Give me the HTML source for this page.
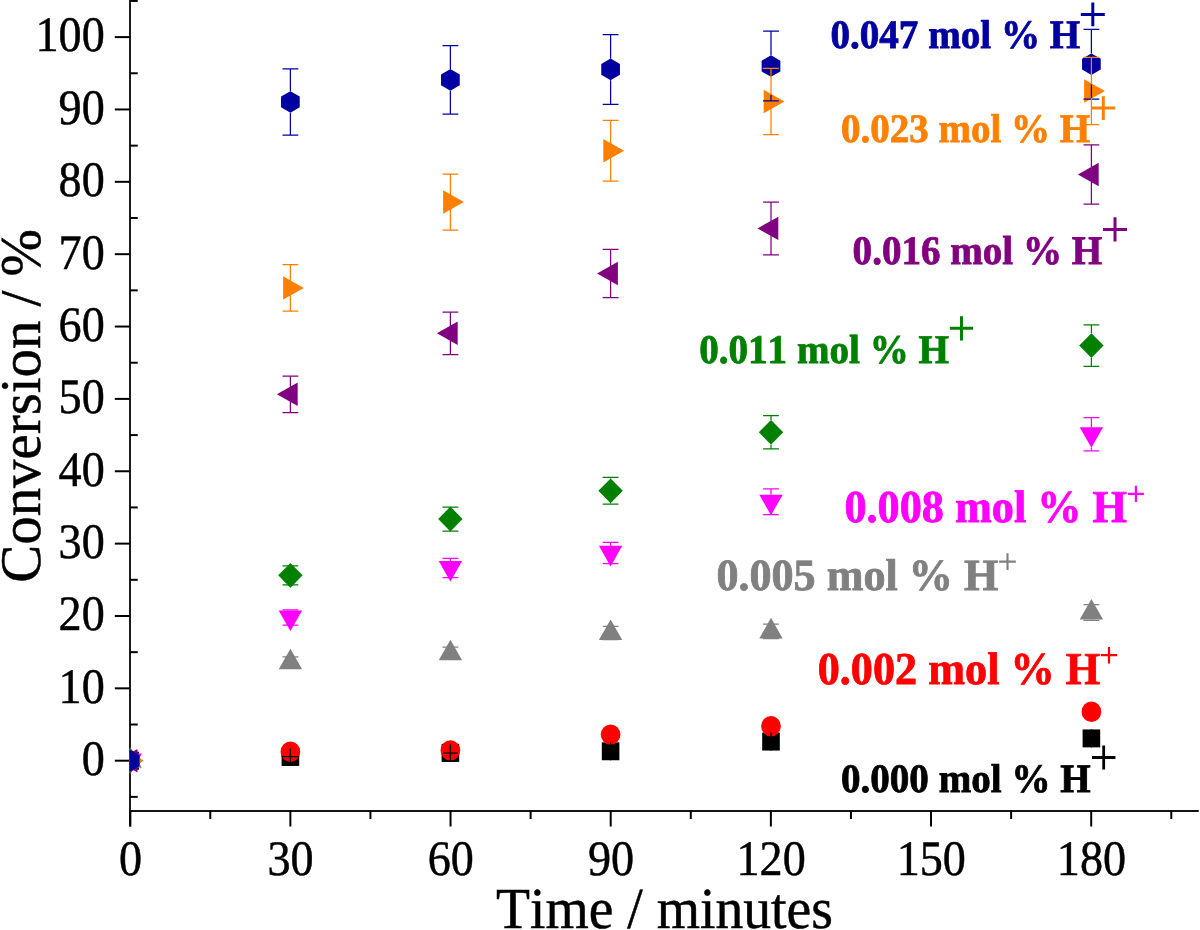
<!DOCTYPE html><html><head><meta charset="utf-8"><style>html,body{margin:0;padding:0;background:#fff;}svg{display:block;will-change:transform;}text{font-family:"Liberation Serif",serif;font-kerning:none;white-space:pre;text-rendering:geometricPrecision;}</style></head><body>
<svg width="1200" height="930" viewBox="0 0 1200 930">
<rect width="1200" height="930" fill="#fff"/>
<defs><clipPath id="pc"><rect x="129.4" y="0" width="1070.6" height="811"/></clipPath></defs>
<g stroke="#000" stroke-width="2" fill="none">
<path d="M130.0,0V811" stroke="#1c1c1c"/>
<path d="M130.2,811V826.5"/>
<path d="M130,811.1H1198" stroke="#141414" stroke-linecap="round"/>
<path d="M114.8,760.70H130.2"/>
<path d="M114.8,688.34H130.2"/>
<path d="M114.8,615.98H130.2"/>
<path d="M114.8,543.62H130.2"/>
<path d="M114.8,471.26H130.2"/>
<path d="M114.8,398.90H130.2"/>
<path d="M114.8,326.54H130.2"/>
<path d="M114.8,254.18H130.2"/>
<path d="M114.8,181.82H130.2"/>
<path d="M114.8,109.46H130.2"/>
<path d="M114.8,37.10H130.2"/>
<path d="M130.2,796.88H137.7"/>
<path d="M130.2,724.52H137.7"/>
<path d="M130.2,652.16H137.7"/>
<path d="M130.2,579.80H137.7"/>
<path d="M130.2,507.44H137.7"/>
<path d="M130.2,435.08H137.7"/>
<path d="M130.2,362.72H137.7"/>
<path d="M130.2,290.36H137.7"/>
<path d="M130.2,218.00H137.7"/>
<path d="M130.2,145.64H137.7"/>
<path d="M130.2,73.28H137.7"/>
<path d="M130.2,0.92H137.7"/>
<path d="M130.20,811V826.5"/>
<path d="M290.37,811V826.5"/>
<path d="M450.53,811V826.5"/>
<path d="M610.70,811V826.5"/>
<path d="M770.87,811V826.5"/>
<path d="M931.03,811V826.5"/>
<path d="M1091.20,811V826.5"/>
<path d="M210.28,811V819"/>
<path d="M370.45,811V819"/>
<path d="M530.62,811V819"/>
<path d="M690.78,811V819"/>
<path d="M850.95,811V819"/>
<path d="M1011.12,811V819"/>
<path d="M1171.28,811V819"/>
</g>
<g clip-path="url(#pc)">
<rect x="121.40" y="751.75" width="17.6" height="17.9" fill="#000000"/>
<ellipse cx="130.20" cy="760.70" rx="9.85" ry="10.2" fill="#FF0000"/>
<polygon points="130.20,747.20 141.90,767.80 118.50,767.80" fill="#808080"/>
<polygon points="118.50,753.60 141.90,753.60 130.20,774.20" fill="#FF00FF"/>
<polygon points="130.20,748.30 142.40,760.70 130.20,773.10 118.00,760.70" fill="#008000"/>
<polygon points="116.70,760.70 137.50,749.00 137.50,772.40" fill="#800080"/>
<polygon points="143.70,760.70 122.90,749.00 122.90,772.40" fill="#FF8000"/>
<polygon points="130.20,749.90 120.85,755.30 120.85,766.10 130.20,771.50 139.55,766.10 139.55,755.30" fill="#0000A0"/>
<rect x="281.60" y="748.05" width="17.6" height="17.9" fill="#000000"/>
<rect x="441.60" y="744.05" width="17.6" height="17.9" fill="#000000"/>
<rect x="601.80" y="742.35" width="17.6" height="17.9" fill="#000000"/>
<rect x="762.20" y="732.65" width="17.6" height="17.9" fill="#000000"/>
<rect x="1082.60" y="729.45" width="17.6" height="17.9" fill="#000000"/>
<ellipse cx="290.40" cy="751.80" rx="9.85" ry="10.2" fill="#FF0000"/>
<ellipse cx="450.40" cy="750.40" rx="9.85" ry="10.2" fill="#FF0000"/>
<ellipse cx="610.60" cy="734.60" rx="9.85" ry="10.2" fill="#FF0000"/>
<ellipse cx="771.00" cy="726.30" rx="9.85" ry="10.2" fill="#FF0000"/>
<ellipse cx="1091.40" cy="711.80" rx="9.85" ry="10.2" fill="#FF0000"/>
<polygon points="290.40,648.70 302.10,669.30 278.70,669.30" fill="#808080"/>
<polygon points="450.40,639.70 462.10,660.30 438.70,660.30" fill="#808080"/>
<polygon points="610.60,619.40 622.30,640.00 598.90,640.00" fill="#808080"/>
<polygon points="771.00,617.80 782.70,638.40 759.30,638.40" fill="#808080"/>
<polygon points="1091.40,599.00 1103.10,619.60 1079.70,619.60" fill="#808080"/>
<polygon points="278.70,610.40 302.10,610.40 290.40,631.00" fill="#FF00FF"/>
<polygon points="438.70,560.90 462.10,560.90 450.40,581.50" fill="#FF00FF"/>
<polygon points="598.90,545.80 622.30,545.80 610.60,566.40" fill="#FF00FF"/>
<polygon points="759.30,494.70 782.70,494.70 771.00,515.30" fill="#FF00FF"/>
<polygon points="1079.70,427.20 1103.10,427.20 1091.40,447.80" fill="#FF00FF"/>
<polygon points="290.40,562.90 302.60,575.30 290.40,587.70 278.20,575.30" fill="#008000"/>
<polygon points="450.40,506.60 462.60,519.00 450.40,531.40 438.20,519.00" fill="#008000"/>
<polygon points="610.60,478.40 622.80,490.80 610.60,503.20 598.40,490.80" fill="#008000"/>
<polygon points="771.00,419.90 783.20,432.30 771.00,444.70 758.80,432.30" fill="#008000"/>
<polygon points="1091.40,333.20 1103.60,345.60 1091.40,358.00 1079.20,345.60" fill="#008000"/>
<polygon points="276.90,394.30 297.70,382.60 297.70,406.00" fill="#800080"/>
<polygon points="436.90,333.30 457.70,321.60 457.70,345.00" fill="#800080"/>
<polygon points="597.10,273.50 617.90,261.80 617.90,285.20" fill="#800080"/>
<polygon points="757.50,228.40 778.30,216.70 778.30,240.10" fill="#800080"/>
<polygon points="1077.90,174.50 1098.70,162.80 1098.70,186.20" fill="#800080"/>
<polygon points="303.90,287.90 283.10,276.20 283.10,299.60" fill="#FF8000"/>
<polygon points="463.90,202.00 443.10,190.30 443.10,213.70" fill="#FF8000"/>
<polygon points="624.10,150.70 603.30,139.00 603.30,162.40" fill="#FF8000"/>
<polygon points="784.50,101.50 763.70,89.80 763.70,113.20" fill="#FF8000"/>
<polygon points="1104.90,91.00 1084.10,79.30 1084.10,102.70" fill="#FF8000"/>
<polygon points="290.40,91.15 281.05,96.55 281.05,107.35 290.40,112.75 299.75,107.35 299.75,96.55" fill="#0000A0"/>
<polygon points="450.40,69.10 441.05,74.50 441.05,85.30 450.40,90.70 459.75,85.30 459.75,74.50" fill="#0000A0"/>
<polygon points="610.60,58.60 601.25,64.00 601.25,74.80 610.60,80.20 619.95,74.80 619.95,64.00" fill="#0000A0"/>
<polygon points="771.00,55.25 761.65,60.65 761.65,71.45 771.00,76.85 780.35,71.45 780.35,60.65" fill="#0000A0"/>
<polygon points="1091.40,53.40 1082.05,58.80 1082.05,69.60 1091.40,75.00 1100.75,69.60 1100.75,58.80" fill="#0000A0"/>
</g>
<g stroke-width="1.25" fill="none">
<path d="M290.40,748.50V765.50" stroke="#000000"/>
<path d="M281.70,756.60H299.10" stroke="#000000"/>
<path d="M450.40,744.20V761.80" stroke="#000000"/>
<path d="M443.00,753.10H457.80" stroke="#000000"/>
<path d="M610.60,742.30V760.30" stroke="#000000"/>
<path d="M771.00,732.60V750.60" stroke="#000000"/>
<path d="M1091.40,729.40V747.40" stroke="#000000"/>
<path d="M282.50,656.80H298.30M282.50,667.60H298.30" stroke="#808080"/>
<path d="M442.50,647.20H458.30M442.50,659.20H458.30" stroke="#808080"/>
<path d="M602.70,626.30H618.50M602.70,639.50H618.50" stroke="#808080"/>
<path d="M771.00,638.20V638.50M763.10,624.10H778.90M763.10,638.50H778.90" stroke="#808080"/>
<path d="M1091.40,619.40V620.30M1083.50,604.70H1099.30M1083.50,620.30H1099.30" stroke="#808080"/>
<path d="M290.40,610.50V609.90M282.50,609.90H298.30M282.50,625.10H298.30" stroke="#FF00FF"/>
<path d="M450.40,561.00V558.30M442.50,558.30H458.30M442.50,577.70H458.30" stroke="#FF00FF"/>
<path d="M610.60,545.90V542.30M602.70,542.30H618.50M602.70,563.50H618.50" stroke="#FF00FF"/>
<path d="M771.00,494.80V488.90M763.10,488.90H778.90M763.10,514.70H778.90" stroke="#FF00FF"/>
<path d="M1091.40,427.30V417.70M1091.40,447.60V450.90M1083.50,417.70H1099.30M1083.50,450.90H1099.30" stroke="#FF00FF"/>
<path d="M282.50,565.85H298.30M282.50,584.75H298.30" stroke="#008000"/>
<path d="M442.50,507.00H458.30M442.50,531.00H458.30" stroke="#008000"/>
<path d="M610.60,478.40V477.40M610.60,503.20V504.20M602.70,477.40H618.50M602.70,504.20H618.50" stroke="#008000"/>
<path d="M771.00,419.90V415.70M771.00,444.70V448.90M763.10,415.70H778.90M763.10,448.90H778.90" stroke="#008000"/>
<path d="M1091.40,333.20V324.80M1091.40,358.00V366.40M1083.50,324.80H1099.30M1083.50,366.40H1099.30" stroke="#008000"/>
<path d="M290.40,387.50V376.00M290.40,401.10V412.60M282.50,376.00H298.30M282.50,412.60H298.30" stroke="#800080"/>
<path d="M450.40,326.50V312.00M450.40,340.10V354.60M442.50,312.00H458.30M442.50,354.60H458.30" stroke="#800080"/>
<path d="M610.60,266.70V249.30M610.60,280.30V297.70M602.70,249.30H618.50M602.70,297.70H618.50" stroke="#800080"/>
<path d="M771.00,221.60V202.00M771.00,235.20V254.80M763.10,202.00H778.90M763.10,254.80H778.90" stroke="#800080"/>
<path d="M1091.40,167.70V144.90M1091.40,181.30V204.10M1083.50,144.90H1099.30M1083.50,204.10H1099.30" stroke="#800080"/>
<path d="M290.40,91.20V68.90M290.40,112.70V135.00M282.50,68.90H298.30M282.50,135.00H298.30" stroke="#0000A0"/>
<path d="M450.40,69.15V45.70M450.40,90.65V114.10M442.50,45.70H458.30M442.50,114.10H458.30" stroke="#0000A0"/>
<path d="M610.60,58.65V34.55M610.60,80.15V104.25M602.70,34.55H618.50M602.70,104.25H618.50" stroke="#0000A0"/>
<path d="M771.00,55.30V31.20M771.00,94.70V100.90M763.10,31.20H778.90M763.10,100.90H778.90" stroke="#0000A0"/>
<path d="M1091.40,53.45V29.40M1091.40,84.20V99.00M1083.50,29.40H1099.30M1083.50,99.00H1099.30" stroke="#0000A0"/>
<path d="M290.40,281.10V264.60M290.40,294.70V311.20M282.50,264.60H298.30M282.50,311.20H298.30" stroke="#FF8000"/>
<path d="M450.40,195.20V174.00M450.40,208.80V230.00M442.50,174.00H458.30M442.50,230.00H458.30" stroke="#FF8000"/>
<path d="M610.60,143.90V120.30M610.60,157.50V181.10M602.70,120.30H618.50M602.70,181.10H618.50" stroke="#FF8000"/>
<path d="M771.00,94.70V68.40M771.00,108.30V134.60M763.10,68.40H778.90M763.10,134.60H778.90" stroke="#FF8000"/>
<path d="M1091.40,84.20V57.40M1091.40,97.80V124.60M1083.50,57.40H1099.30M1083.50,124.60H1099.30" stroke="#FF8000"/>
</g>
<text x="0" y="0" font-size="49.50" font-weight="normal" fill="#000" transform="translate(81.64 775.07) scale(0.9322 1)" stroke="#000" stroke-width="0.5">0</text>
<text x="0" y="0" font-size="49.50" font-weight="normal" fill="#000" transform="translate(58.57 702.71) scale(0.9322 1)" stroke="#000" stroke-width="0.5">10</text>
<text x="0" y="0" font-size="49.50" font-weight="normal" fill="#000" transform="translate(58.57 630.35) scale(0.9322 1)" stroke="#000" stroke-width="0.5">20</text>
<text x="0" y="0" font-size="49.50" font-weight="normal" fill="#000" transform="translate(58.57 557.99) scale(0.9322 1)" stroke="#000" stroke-width="0.5">30</text>
<text x="0" y="0" font-size="49.50" font-weight="normal" fill="#000" transform="translate(58.57 485.63) scale(0.9322 1)" stroke="#000" stroke-width="0.5">40</text>
<text x="0" y="0" font-size="49.50" font-weight="normal" fill="#000" transform="translate(58.57 413.27) scale(0.9322 1)" stroke="#000" stroke-width="0.5">50</text>
<text x="0" y="0" font-size="49.50" font-weight="normal" fill="#000" transform="translate(58.57 340.91) scale(0.9322 1)" stroke="#000" stroke-width="0.5">60</text>
<text x="0" y="0" font-size="49.50" font-weight="normal" fill="#000" transform="translate(58.57 268.55) scale(0.9322 1)" stroke="#000" stroke-width="0.5">70</text>
<text x="0" y="0" font-size="49.50" font-weight="normal" fill="#000" transform="translate(58.57 196.19) scale(0.9322 1)" stroke="#000" stroke-width="0.5">80</text>
<text x="0" y="0" font-size="49.50" font-weight="normal" fill="#000" transform="translate(58.57 123.83) scale(0.9322 1)" stroke="#000" stroke-width="0.5">90</text>
<text x="0" y="0" font-size="49.50" font-weight="normal" fill="#000" transform="translate(35.49 51.47) scale(0.9322 1)" stroke="#000" stroke-width="0.5">100</text>
<text x="0" y="0" font-size="49.50" font-weight="normal" fill="#000" transform="translate(118.91 875.12) scale(0.9322 1)" stroke="#000" stroke-width="0.5">0</text>
<text x="0" y="0" font-size="49.50" font-weight="normal" fill="#000" transform="translate(267.55 875.12) scale(0.9322 1)" stroke="#000" stroke-width="0.5">30</text>
<text x="0" y="0" font-size="49.50" font-weight="normal" fill="#000" transform="translate(427.71 875.12) scale(0.9322 1)" stroke="#000" stroke-width="0.5">60</text>
<text x="0" y="0" font-size="49.50" font-weight="normal" fill="#000" transform="translate(587.88 875.12) scale(0.9322 1)" stroke="#000" stroke-width="0.5">90</text>
<text x="0" y="0" font-size="49.50" font-weight="normal" fill="#000" transform="translate(736.51 875.12) scale(0.9322 1)" stroke="#000" stroke-width="0.5">120</text>
<text x="0" y="0" font-size="49.50" font-weight="normal" fill="#000" transform="translate(896.68 875.12) scale(0.9322 1)" stroke="#000" stroke-width="0.5">150</text>
<text x="0" y="0" font-size="49.50" font-weight="normal" fill="#000" transform="translate(1056.84 875.12) scale(0.9322 1)" stroke="#000" stroke-width="0.5">180</text>
<text x="0" y="0" font-size="58.03" font-weight="normal" fill="#000" transform="translate(495.94 928.25) scale(0.9591 1)" stroke="#000" stroke-width="0.5">Time / minutes</text>
<g transform="translate(1.9 580.6) rotate(-90)"><text x="0" y="0" font-size="57.45" font-weight="normal" fill="#000" transform="translate(-2.08 38.29) scale(0.9895 1)" stroke="#000" stroke-width="0.5">Conversion / %</text></g>
<text x="0" y="0" font-size="40.31" font-weight="bold" fill="#0000A0" transform="translate(830.41 48.41) scale(0.9702 1)" stroke="#0000A0" stroke-width="0.8">0.047 mol % H</text>
<path d="M1080.80,14.40H1104.80M1092.80,2.55V26.25" stroke="#0000A0" stroke-width="3" fill="none"/>
<text x="0" y="0" font-size="40.31" font-weight="bold" fill="#FF8000" transform="translate(840.91 142.41) scale(0.9682 1)" stroke="#FF8000" stroke-width="0.8">0.023 mol % H</text>
<path d="M1091.30,108.10H1115.30M1103.30,96.20V120.00" stroke="#FF8000" stroke-width="3" fill="none"/>
<text x="0" y="0" font-size="40.46" font-weight="bold" fill="#800080" transform="translate(852.61 263.90) scale(0.9655 1)" stroke="#800080" stroke-width="0.8">0.016 mol % H</text>
<path d="M1103.00,229.40H1127.00M1115.00,217.25V241.55" stroke="#800080" stroke-width="3" fill="none"/>
<text x="0" y="0" font-size="40.60" font-weight="bold" fill="#008000" transform="translate(699.21 362.70) scale(0.9631 1)" stroke="#008000" stroke-width="0.8">0.011 mol % H</text>
<path d="M949.85,328.30H973.15M961.50,316.20V340.40" stroke="#008000" stroke-width="3" fill="none"/>
<text x="0" y="0" font-size="45.64" font-weight="bold" fill="#FF00FF" transform="translate(844.41 522.25) scale(0.9696 1)" stroke="#FF00FF" stroke-width="0.8">0.008 mol % H</text>
<path d="M1127.90,493.90H1143.90M1135.90,485.75V502.05" stroke="#FF00FF" stroke-width="2.2" fill="none"/>
<text x="0" y="0" font-size="44.61" font-weight="bold" fill="#808080" transform="translate(716.42 590.06) scale(0.9889 1)" stroke="#808080" stroke-width="0.8">0.005 mol % H</text>
<path d="M999.15,561.60H1015.85M1007.50,553.30V569.90" stroke="#808080" stroke-width="2.1" fill="none"/>
<text x="0" y="0" font-size="45.64" font-weight="bold" fill="#FF0000" transform="translate(817.72 683.65) scale(0.9689 1)" stroke="#FF0000" stroke-width="0.8">0.002 mol % H</text>
<path d="M1100.80,655.20H1117.20M1109.00,646.95V663.45" stroke="#FF0000" stroke-width="2.2" fill="none"/>
<text x="0" y="0" font-size="40.31" font-weight="bold" fill="#000000" transform="translate(840.91 791.51) scale(0.9702 1)" stroke="#000000" stroke-width="0.8">0.000 mol % H</text>
<path d="M1091.95,757.50H1115.45M1103.70,745.50V769.50" stroke="#000000" stroke-width="2.8" fill="none"/>
</svg></body></html>
